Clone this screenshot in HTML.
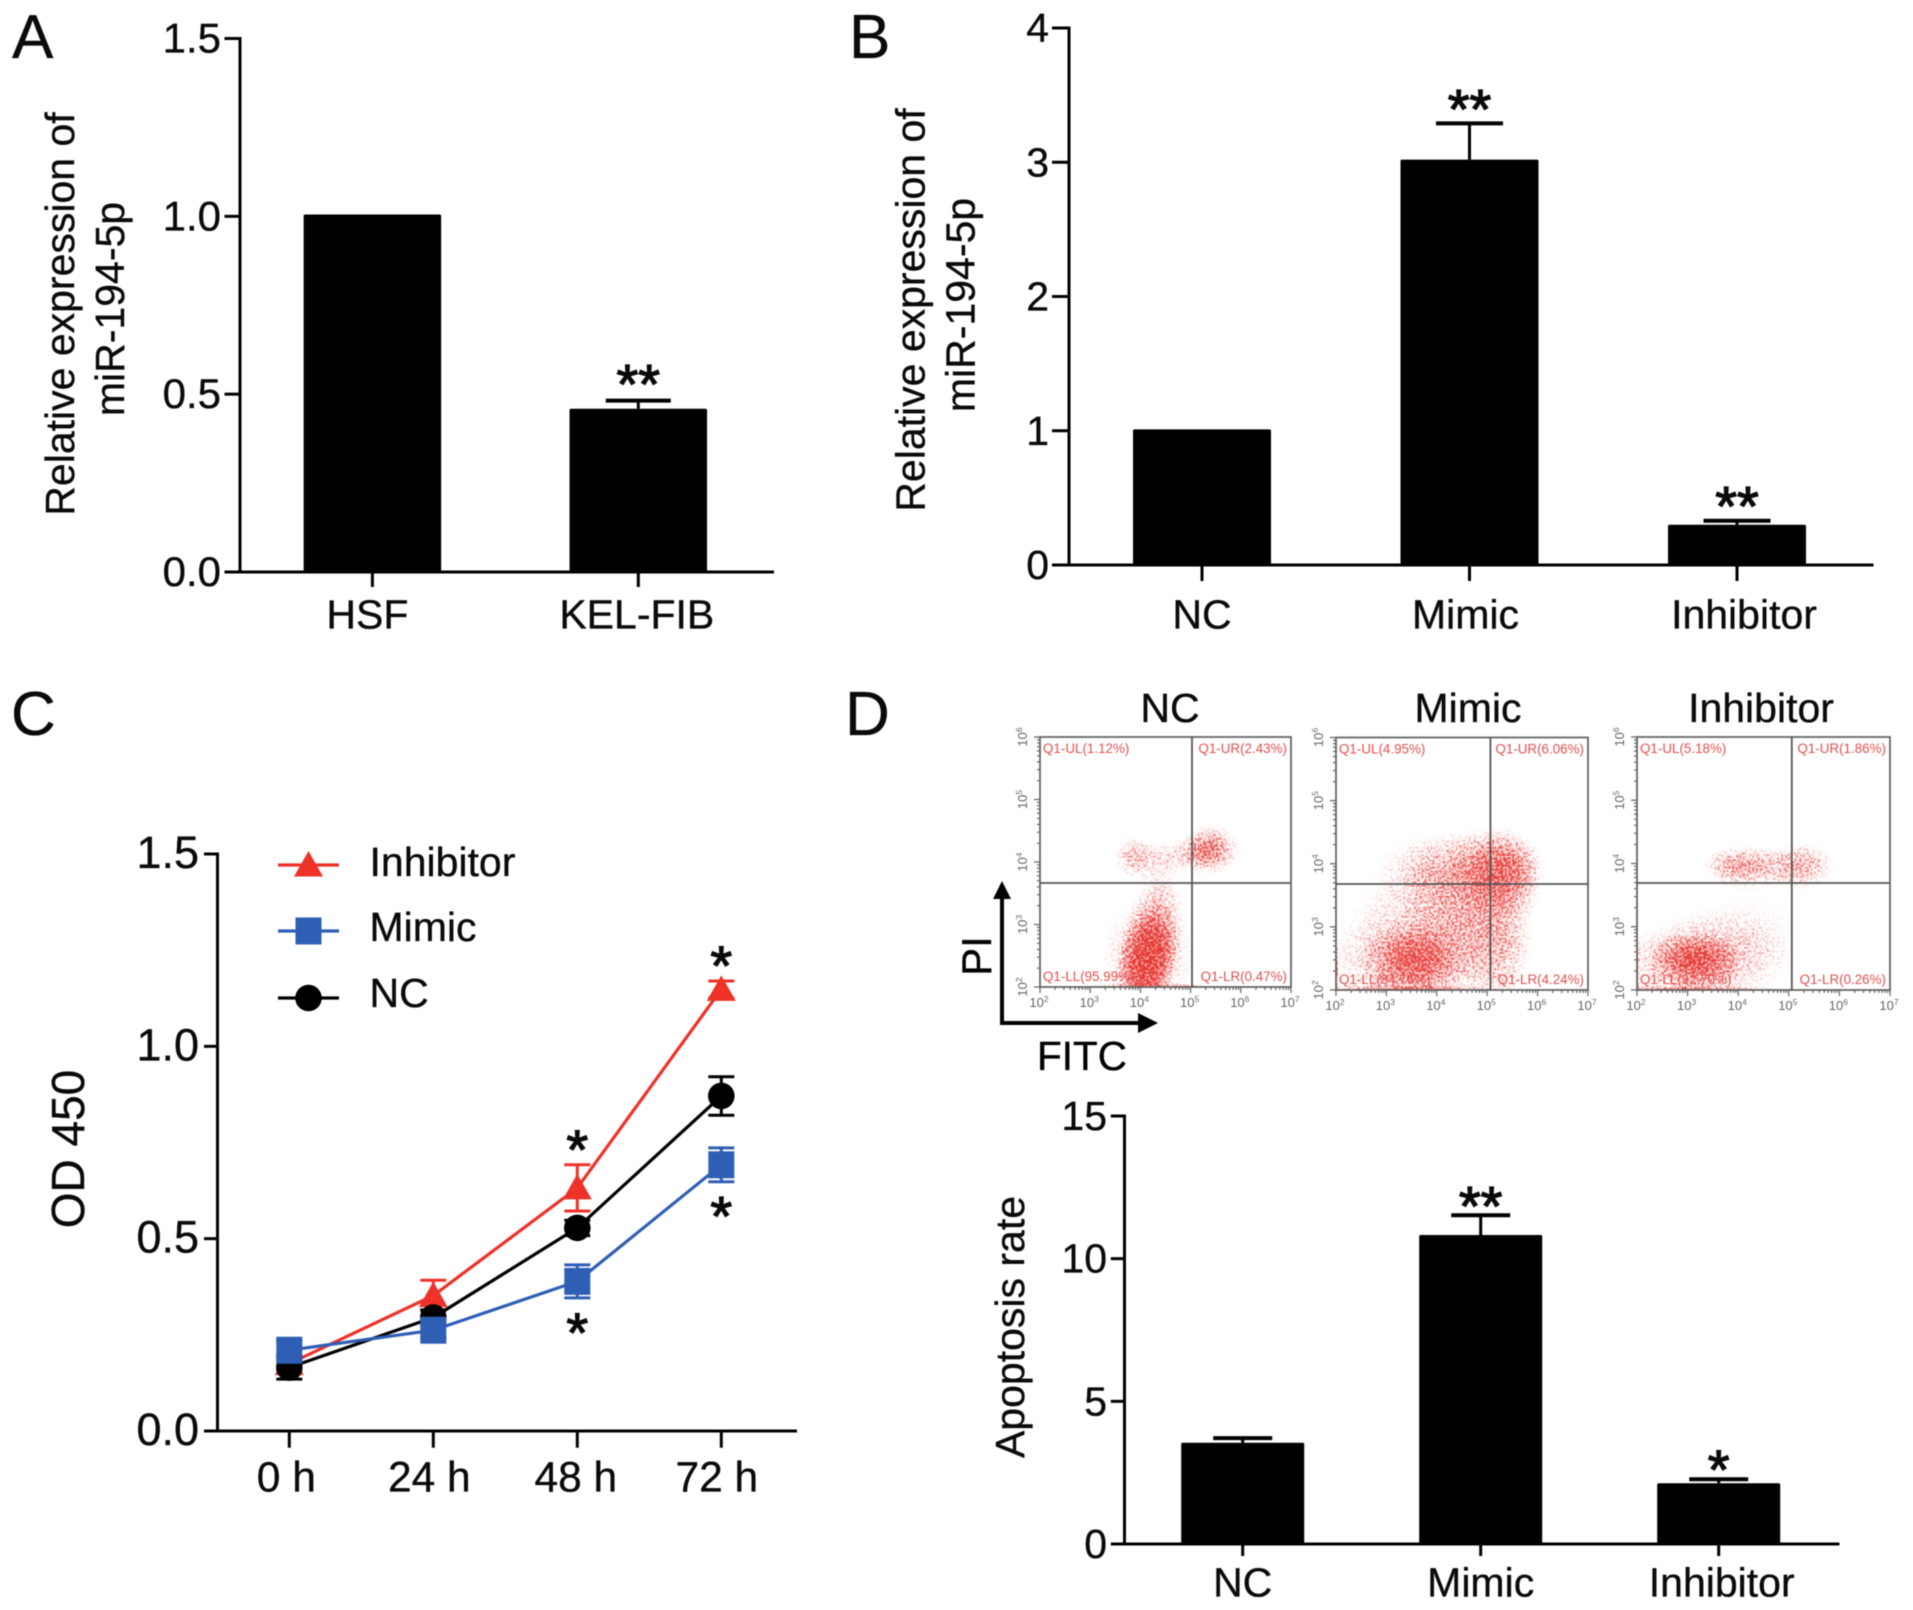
<!DOCTYPE html>
<html lang="en">
<head>
<meta charset="utf-8">
<title>miR-194-5p expression, proliferation and apoptosis panels</title>
<style>
  html, body { margin: 0; padding: 0; background: #fff; }
  #figure { display: block; width: 1913px; height: 1610px; filter: blur(0.45px); font-family: "Liberation Sans", sans-serif; fill: #0a0a0a; }
  #figure text:not([fill]) { stroke: #0a0a0a; stroke-width: 0.35px; }
  #figure text.star { stroke-width: 1.3px; }
</style>
</head>
<body>
<svg id="figure" xmlns="http://www.w3.org/2000/svg" width="1913" height="1610" viewBox="0 0 1913 1610">
  <defs>
    <radialGradient id="blob">
      <stop offset="0" stop-color="#000" stop-opacity="1"/>
      <stop offset="0.35" stop-color="#000" stop-opacity="0.75"/>
      <stop offset="0.7" stop-color="#000" stop-opacity="0.28"/>
      <stop offset="1" stop-color="#000" stop-opacity="0"/>
    </radialGradient>
    <filter id="stipple" x="-0.1" y="-0.1" width="1.2" height="1.2" color-interpolation-filters="sRGB">
      <feTurbulence type="fractalNoise" baseFrequency="0.55" numOctaves="2" seed="7" result="noise"/>
      <feColorMatrix in="noise" type="matrix" values="0 0 0 0 0  0 0 0 0 0  0 0 0 0 0  0 0 0 3 -1" result="noiseAlpha"/>
      <feComposite in="SourceAlpha" in2="noiseAlpha" operator="arithmetic" k1="0" k2="3" k3="2.4" k4="-2.9" result="dots"/>
      <feFlood flood-color="#e62f2a" result="ink"/>
      <feComposite in="ink" in2="dots" operator="in"/>
      <feGaussianBlur stdDeviation="0.45"/>
    </filter>
  </defs>
  <rect x="0" y="0" width="1913" height="1610" fill="#ffffff"/>

  <text x="12" y="58" font-size="62">A</text>
  <text x="849" y="58" font-size="62">B</text>
  <text x="11" y="735" font-size="62">C</text>
  <text x="845" y="735" font-size="62">D</text>

  <g font-size="41" text-anchor="middle">
    <text transform="translate(74 314) rotate(-90)">Relative expression of</text>
    <text transform="translate(124 309) rotate(-90)">miR-194-5p</text>
  </g>
  <g font-size="41" text-anchor="middle">
    <text transform="translate(924.5 310) rotate(-90)">Relative expression of</text>
    <text transform="translate(974.5 305) rotate(-90)">miR-194-5p</text>
  </g>
  <text font-size="46" text-anchor="middle" transform="translate(84 1149) rotate(-90)">OD 450</text>
  <text font-size="41" text-anchor="middle" transform="translate(1024 1327) rotate(-90)">Apoptosis rate</text>

  <g font-size="41" text-anchor="middle">
    <text x="1170" y="722">NC</text>
    <text x="1468" y="722">Mimic</text>
    <text x="1761" y="722">Inhibitor</text>
  </g>

  <g fill="#000" stroke="none">
    <path d="M1000 1025 V899 H993 L1002 881 L1011 899 H1004 V1025 Z"/>
    <path d="M1000 1021 H1138 V1013 L1158 1023 L1138 1033 V1025 H1000 Z"/>
    <text font-size="42" text-anchor="middle" transform="translate(991 956) rotate(-90)">PI</text>
    <text font-size="40.5" x="1037" y="1070">FITC</text>
  </g>
  <g id="chart-root"></g>
</svg>

<script>
// Panel A data
const panelACategories = ['HSF', 'KEL-FIB'];
const panelAValues = [1.005, 0.459];
const panelAErrors = [0, 0.023];
const panelAStars = ['', '**'];
const panelATicks = [0, 0.5, 1.0, 1.5];
const panelATickLabels = ['0.0', '0.5', '1.0', '1.5'];

// Panel B data
const panelBCategories = ['NC', 'Mimic', 'Inhibitor'];
const panelBValues = [1.01, 3.02, 0.30];
const panelBErrors = [0, 0.27, 0.03];
const panelBStars = ['', '**', '**'];
const panelBTicks = [0, 1, 2, 3, 4];
const panelBTickLabels = ['0', '1', '2', '3', '4'];

// Panel C data
const timeLabels = ['0 h', '24 h', '48 h', '72 h'];
const inhibitorValues = [0.175, 0.352, 0.632, 1.148];
const inhibitorErrors = [0.02, 0.04, 0.06, 0.022];
const inhibitorStars = ['', '', '*', '*'];
const mimicValues = [0.21, 0.262, 0.389, 0.692];
const mimicErrors = [0.025, 0.02, 0.043, 0.044];
const mimicStars = ['', '', '*', '*'];
const ncValues = [0.165, 0.295, 0.528, 0.871];
const ncErrors = [0.03, 0.02, 0.02, 0.05];
const panelCTicks = [0, 0.5, 1.0, 1.5];
const panelCTickLabels = ['0.0', '0.5', '1.0', '1.5'];

// Panel D bar data
const panelDCategories = ['NC', 'Mimic', 'Inhibitor'];
const panelDValues = [3.55, 10.83, 2.13];
const panelDErrors = [0.16, 0.69, 0.14];
const panelDStars = ['', '**', '*'];
const panelDTicks = [0, 5, 10, 15];
const panelDTickLabels = ['0', '5', '10', '15'];

// Flow cytometry density clusters (log10 fluorescence, spreads in decades, 0-1 density)
const flowDecadesX = [2, 3, 4, 5, 6, 7];
const flowDecadesY = [2, 3, 4, 5, 6];

const ncClusterLogX = [4.05, 4.25, 4.13, 4.15, 5.44, 3.85, 4.6, 4.4, 4.3, 5.3];
const ncClusterLogY = [2.22, 2.72, 2.45, 2.5, 4.22, 4.08, 4.08, 3.35, 2.0, 4.2];
const ncClusterSpreadX = [0.27, 0.29, 0.32, 0.72, 0.42, 0.26, 0.65, 0.3, 0.9, 0.25];
const ncClusterSpreadY = [0.36, 0.36, 0.36, 0.7, 0.3, 0.26, 0.2, 0.45, 0.03, 0.15];
const ncClusterDensity = [1, 1, 1, 0.5, 0.6, 0.46, 0.4, 0.42, 0.75, 0.5];
const ncQuadrants = ['Q1-UL(1.12%)', 'Q1-UR(2.43%)', 'Q1-LL(95.99%)', 'Q1-LR(0.47%)'];

const mimicClusterLogX = [3.55, 3.3, 5.32, 4.4, 4.7, 3.6, 5.3, 3.3, 2.0];
const mimicClusterLogY = [2.48, 2.42, 3.9, 3.9, 3.16, 3.27, 2.85, 2.0, 2.3];
const mimicClusterSpreadX = [0.55, 1.3, 0.55, 0.85, 0.7, 0.95, 0.45, 1.0, 0.03];
const mimicClusterSpreadY = [0.32, 0.55, 0.42, 0.42, 0.75, 0.8, 0.95, 0.05, 0.3];
const mimicClusterDensity = [0.88, 0.42, 0.82, 0.46, 0.48, 0.38, 0.4, 0.85, 0.75];
const mimicQuadrants = ['Q1-UL(4.95%)', 'Q1-UR(6.06%)', 'Q1-LL(84.76%)', 'Q1-LR(4.24%)'];

const inhibitorClusterLogX = [3.15, 3.05, 4.07, 5.23, 3.0, 4.25, 2.0];
const inhibitorClusterLogY = [2.47, 2.47, 3.97, 3.97, 2.0, 2.85, 2.3];
const inhibitorClusterSpreadX = [0.5, 1.05, 0.55, 0.48, 1.0, 0.9, 0.03];
const inhibitorClusterSpreadY = [0.24, 0.48, 0.22, 0.26, 0.04, 0.65, 0.3];
const inhibitorClusterDensity = [1, 0.56, 0.68, 0.62, 0.9, 0.3, 0.75];
const inhibitorQuadrants = ['Q1-UL(5.18%)', 'Q1-UR(1.86%)', 'Q1-LL(92.70%)', 'Q1-LR(0.26%)'];

const SVG_NS = 'http://www.w3.org/2000/svg';
const root = document.getElementById('chart-root');

function node(tag, attrs, parent, content) {
  const el = document.createElementNS(SVG_NS, tag);
  Object.keys(attrs).forEach(function (k) { el.setAttribute(k, attrs[k]); });
  if (content !== undefined) el.textContent = content;
  parent.appendChild(el);
  return el;
}
function slug(s) { return String(s).toLowerCase().replace(/[^a-z0-9]+/g, '-'); }
function linearAxis(maxValue, pixelZero, pixelMax) {
  return function (v) { return pixelZero - (v / maxValue) * (pixelZero - pixelMax); };
}

function drawAxes(g, o) {
  const yAxis = node('line', { x1: o.axisX, x2: o.axisX, y1: o.y(o.ticks[o.ticks.length - 1]) - 1.5, y2: o.y(0) + 1.5, stroke: '#000', 'stroke-width': 3 }, g);
  
  
  const xAxis = node('line', { x1: o.axisX - 1.5, x2: o.axisEnd, y1: o.y(0), y2: o.y(0), stroke: '#000', 'stroke-width': 3 }, g);
  
  
  o.ticks.forEach(function (t, i) {
    const tick = node('line', { x1: o.tickLeft, x2: o.axisX, y1: o.y(t), y2: o.y(t), stroke: '#000', 'stroke-width': 3 }, g);
    
    
    const label = node('text', { x: o.labelRight, y: o.y(t) + 14, 'text-anchor': 'end', 'font-size': o.tickFont || 41 }, g, o.tickLabels[i]);
    
    
  });
  o.categories.forEach(function (c, i) {
    const tx = o.x(i);
    const tick = node('line', { x1: tx, x2: tx, y1: o.y(0), y2: o.tickBottom, stroke: '#000', 'stroke-width': 3 }, g);
    
    
    const label = node('text', { x: tx + (o.nudge[c] || 0), y: o.labelBaseline, 'text-anchor': 'middle', 'font-size': o.labelFont || 41 }, g, c);
    
    
  });
}

function drawBarPanel(o) {
  const g = node('g', {}, root);
  
  
  o.categories.forEach(function (c, i) {
    const cx = o.x(i);
    const top = o.y(o.values[i]);
    const errTop = o.y(o.values[i] + o.errors[i]);
    if (o.errors[i] > 0) {
      const whisker = node('line', { x1: cx, x2: cx, y1: errTop, y2: top, stroke: '#000', 'stroke-width': 3 }, g);
      
      
      const cap = node('line', { x1: cx - o.capWidth / 2, x2: cx + o.capWidth / 2, y1: errTop, y2: errTop, stroke: '#000', 'stroke-width': 4 }, g);
      
      
    }
    const bar = node('rect', { x: cx - o.barWidth / 2, y: top, width: o.barWidth, height: o.y(0) - top, fill: '#000', rx: 1.5 }, g);
    
    
    if (o.stars[i]) {
      const star = node('text', { x: cx, y: errTop + o.starOffset, 'text-anchor': 'middle', 'font-size': 56, 'class': 'star' }, g, o.stars[i]);
      
      
    }
  });
  drawAxes(g, o);
}

drawBarPanel({
  id: 'panel-a', categories: panelACategories, values: panelAValues, errors: panelAErrors, stars: panelAStars,
  ticks: panelATicks, tickLabels: panelATickLabels, y: linearAxis(1.5, 572, 38.5),
  x: function (i) { return 372.4 + i * 265.9; }, barWidth: 137.5, capWidth: 65, starOffset: 3, tickFont: 42,
  axisX: 240, axisEnd: 774, tickLeft: 224.5, labelRight: 221, tickBottom: 587, labelBaseline: 628.5, nudge: { 'HSF': -5, 'KEL-FIB': -1.5 }
});
drawBarPanel({
  id: 'panel-b', categories: panelBCategories, values: panelBValues, errors: panelBErrors, stars: panelBStars,
  ticks: panelBTicks, tickLabels: panelBTickLabels, y: linearAxis(4, 565, 28),
  x: function (i) { return 1202 + i * 267.5; }, barWidth: 138, capWidth: 67, starOffset: 5,
  axisX: 1069, axisEnd: 1873.5, tickLeft: 1052, labelRight: 1049, tickBottom: 581, labelBaseline: 628.5, nudge: { 'Inhibitor': 7, 'Mimic': -4 }
});
drawBarPanel({
  id: 'panel-d-bars', categories: panelDCategories, values: panelDValues, errors: panelDErrors, stars: panelDStars,
  ticks: panelDTicks, tickLabels: panelDTickLabels, y: linearAxis(15, 1544, 1116),
  x: function (i) { return 1242.7 + i * 238; }, barWidth: 123, capWidth: 59, starOffset: 10,
  axisX: 1124.5, axisEnd: 1839.5, tickLeft: 1110.8, labelRight: 1107, tickBottom: 1556, labelBaseline: 1596.7, nudge: { 'Inhibitor': 3 }
});

// Panel C line chart
const panelCX = function (i) { return 289.3 + i * 144; };
const panelCY = linearAxis(1.5, 1431, 854);

function drawMarker(kind, cx, cy, color, parent) {
  if (kind === 'triangle') {
    return node('polygon', { points: (cx - 14.5) + ',' + (cy + 11.5) + ' ' + (cx + 14.5) + ',' + (cy + 11.5) + ' ' + cx + ',' + (cy - 14), fill: color }, parent);
  }
  if (kind === 'square') {
    return node('rect', { x: cx - 13, y: cy - 13.5, width: 26, height: 27, fill: color }, parent);
  }
  return node('circle', { cx: cx, cy: cy, r: 13.3, fill: color }, parent);
}

function drawSeries(name, values, errors, color, kind, parent) {
  const g = node('g', {}, parent);
  
  
  const pts = values.map(function (v, i) { return panelCX(i) + ',' + panelCY(v); }).join(' ');
  const line = node('polyline', { points: pts, fill: 'none', stroke: color, 'stroke-width': 3.2 }, g);
  
  
  values.forEach(function (v, i) {
    const cx = panelCX(i);
    const hi = panelCY(v + errors[i]);
    const lo = panelCY(v - errors[i]);
    const err = node('path', { d: 'M' + (cx - 13) + ' ' + hi + 'H' + (cx + 13) + 'M' + cx + ' ' + hi + 'V' + lo + 'M' + (cx - 13) + ' ' + lo + 'H' + (cx + 13), fill: 'none', stroke: color, 'stroke-width': 3 }, g);
    
    
    const point = drawMarker(kind, cx, panelCY(v), color, g);
    
    
  });
}

const panelC = node('g', {}, root);


drawSeries('inhibitor', inhibitorValues, inhibitorErrors, '#ee3228', 'triangle', panelC);
drawSeries('nc', ncValues, ncErrors, '#000000', 'circle', panelC);
drawSeries('mimic', mimicValues, mimicErrors, '#2e5fb5', 'square', panelC);
drawAxes(panelC, {
  id: 'panel-c', categories: timeLabels, ticks: panelCTicks, tickLabels: panelCTickLabels, y: panelCY, x: panelCX,
  axisX: 217.5, axisEnd: 797, tickLeft: 204, labelRight: 199, tickBottom: 1447.7, labelBaseline: 1491.7, tickFont: 45, labelFont: 42.5,
  nudge: { '0 h': -3, '24 h': -4, '48 h': -1.5, '72 h': -4.5 }
});
inhibitorStars.forEach(function (s, i) {
  if (!s) return;
  const star = node('text', { x: panelCX(i), y: panelCY(inhibitorValues[i] + inhibitorErrors[i]) + 4, 'text-anchor': 'middle', 'font-size': 56, 'class': 'star' }, panelC, s);
  
  
});
mimicStars.forEach(function (s, i) {
  if (!s) return;
  const star = node('text', { x: panelCX(i), y: panelCY(mimicValues[i] - mimicErrors[i]) + 54, 'text-anchor': 'middle', 'font-size': 56, 'class': 'star' }, panelC, s);
  
  
});

const legend = node('g', {}, panelC);


[['Inhibitor', '#ee3228', 'triangle', 865, 876], ['Mimic', '#2e5fb5', 'square', 931, 941], ['NC', '#000000', 'circle', 998, 1007]].forEach(function (e) {
  const entry = node('g', {}, legend);
  
  
  const key = node('line', { x1: 278, x2: 339, y1: e[3], y2: e[3], stroke: e[1], 'stroke-width': 3.2 }, entry);
  
  
  const mk = drawMarker(e[2], 308.5, e[3], e[1], entry);
  
  
  const tx = node('text', { x: 369.5, y: e[4], 'font-size': 41 }, entry, e[0]);
  
  
});

// Panel D flow cytometry plots
function drawFlowPlot(o) {
  const g = node('g', {}, root);
  
  
  const w = o.right - o.left;
  const h = o.bottom - o.top;
  const fx = function (lg) { return o.left + (lg - 2) / 5 * w; };
  const fy = function (lg) { return o.bottom - (lg - 2) / 4 * h; };

  const clip = node('clipPath', { id: o.id + '-clip' }, g);
  node('rect', { x: o.left, y: o.top, width: w, height: h + 1 }, clip);
  const clipped = node('g', { 'clip-path': 'url(#' + o.id + '-clip)' }, g);
  const cloud = node('g', { filter: 'url(#stipple)' }, clipped);
  
  
  node('rect', { x: o.left - 20, y: o.top - 20, width: w + 40, height: h + 40, fill: '#000', 'fill-opacity': 0.001 }, cloud);
  o.logX.forEach(function (lx, i) {
    const blob = node('ellipse', {
      cx: fx(lx), cy: fy(o.logY[i]),
      rx: 2 * o.spreadX[i] * w / 5, ry: 2 * o.spreadY[i] * h / 4,
      fill: 'url(#blob)', opacity: o.density[i]
    }, cloud);
    
    
  });

  const box = node('rect', { x: o.left, y: o.top, width: w, height: h, fill: 'none', stroke: '#666', 'stroke-width': 1.8 }, g);
  
  
  const hLine = node('line', { x1: o.left, x2: o.right, y1: o.gateY, y2: o.gateY, stroke: '#555', 'stroke-width': 1.8 }, g);
  
  
  const vLine = node('line', { x1: o.gateX, x2: o.gateX, y1: o.top, y2: o.bottom, stroke: '#555', 'stroke-width': 1.8 }, g);
  
  

  const tickPath = [];
  flowDecadesX.forEach(function (d, i) {
    tickPath.push('M' + fx(d) + ' ' + o.bottom + 'v6');
    if (i < flowDecadesX.length - 1) {
      for (let k = 2; k < 10; k++) tickPath.push('M' + fx(d + Math.log10(k)) + ' ' + o.bottom + 'v3');
    }
    const lab = node('text', { x: fx(d) - 1, y: o.bottom + 20, 'text-anchor': 'middle', 'font-size': 13, fill: '#666' }, g, '10');
    
    
    node('tspan', { dy: -5, 'font-size': 8.5 }, lab, String(d));
  });
  flowDecadesY.forEach(function (d, i) {
    tickPath.push('M' + o.left + ' ' + fy(d) + 'h-6');
    if (i < flowDecadesY.length - 1) {
      for (let k = 2; k < 10; k++) tickPath.push('M' + o.left + ' ' + fy(d + Math.log10(k)) + 'h-3');
    }
    const lab = node('text', { 'text-anchor': 'middle', 'font-size': 13, fill: '#666', transform: 'translate(' + (o.left - 13) + ' ' + fy(d) + ') rotate(-90)' }, g, '10');
    
    
    node('tspan', { dy: -5, 'font-size': 8.5 }, lab, String(d));
  });
  const ticks = node('path', { d: tickPath.join(''), stroke: '#666', 'stroke-width': 1.2, fill: 'none' }, g);
  
  

  const q = o.quadrants;
  const style = { 'font-size': 13.4, fill: '#e2504e' };
  [[q[0], o.left + 3, o.top + 16, 'start'], [q[1], o.right - 4, o.top + 16, 'end'],
   [q[2], o.left + 3, o.bottom - 6, 'start'], [q[3], o.right - 4, o.bottom - 6, 'end']].forEach(function (e) {
    const t = node('text', Object.assign({ x: e[1], y: e[2], 'text-anchor': e[3] }, style), g, e[0]);
    
    
  });
}

drawFlowPlot({ id: 'flow-plot-nc', left: 1040, right: 1291, top: 737, bottom: 987, gateX: 1192, gateY: 883,
  logX: ncClusterLogX, logY: ncClusterLogY, spreadX: ncClusterSpreadX, spreadY: ncClusterSpreadY, density: ncClusterDensity, quadrants: ncQuadrants });
drawFlowPlot({ id: 'flow-plot-mimic', left: 1336, right: 1588, top: 737.5, bottom: 990, gateX: 1490.4, gateY: 884,
  logX: mimicClusterLogX, logY: mimicClusterLogY, spreadX: mimicClusterSpreadX, spreadY: mimicClusterSpreadY, density: mimicClusterDensity, quadrants: mimicQuadrants });
drawFlowPlot({ id: 'flow-plot-inhibitor', left: 1637, right: 1890, top: 737, bottom: 990, gateX: 1791.8, gateY: 883,
  logX: inhibitorClusterLogX, logY: inhibitorClusterLogY, spreadX: inhibitorClusterSpreadX, spreadY: inhibitorClusterSpreadY, density: inhibitorClusterDensity, quadrants: inhibitorQuadrants });
</script>
</body>
</html>
